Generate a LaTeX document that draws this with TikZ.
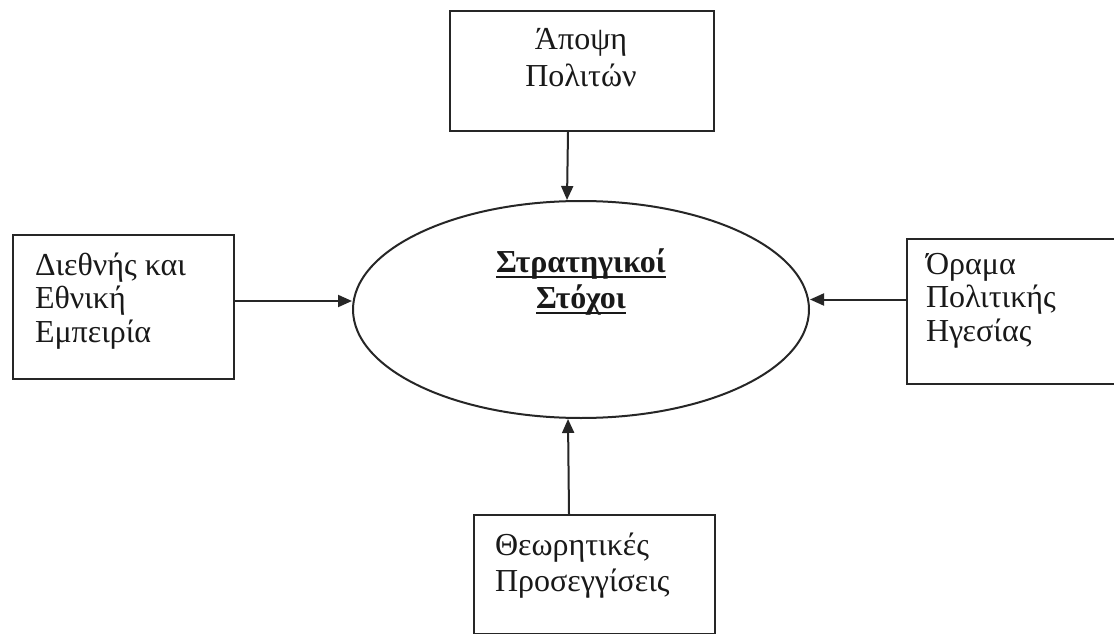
\documentclass[tikz,border=0pt]{standalone}
\usepackage{fontspec}
\setmainfont{Liberation Serif}
\usetikzlibrary{arrows.meta,shapes.geometric}
\newcommand{\myul}[1]{{\setbox0\hbox{#1}\copy0\llap{\vrule width\wd0 height -3.5pt depth 5.5pt}}}
\begin{document}
\begin{tikzpicture}[x=1pt,y=-1pt,
  line width=2pt,
  box/.style={draw=black!85, rectangle, inner sep=0pt, anchor=north west},
  txt/.style={align=left, inner sep=0pt, font=\fontsize{32}{33.5}\selectfont, text=black!90},
  ctxt/.style={align=center, inner sep=0pt, font=\fontsize{32}{36}\selectfont, text=black!90},
  arr/.style={draw=black!85, -{Triangle[length=14pt,width=12pt]}}]
\clip (0,0) rectangle (1114,634);
\fill[white] (0,0) rectangle (1114,634);
% boxes
\node[box, minimum width=264, minimum height=120] (T) at (449,10) {};
\node[box, minimum width=221, minimum height=144] (L) at (12,234) {};
\node[box, minimum width=230, minimum height=145] (R) at (906,238) {};
\node[box, minimum width=241, minimum height=119] (B) at (473,514) {};
% ellipse
\node[draw=black!85, ellipse, inner sep=0pt, minimum width=456, minimum height=217] (E) at (581,309.5) {};
% texts (anchor = baseline of the last line)
\node[ctxt, anchor=base] (Tt) at (581,86) {Άποψη\\Πολιτών};
\node[txt, anchor=base west] (Lt) at (34,342) {Διεθνής και\\Εθνική\\Εμπειρία};
\node[txt, anchor=base west] (Rt) at (925,341) {Όραμα\\Πολιτικής\\Ηγεσίας};
\node[txt, anchor=base west, font=\fontsize{32}{36}\selectfont] (Bt) at (494,591) {Θεωρητικές\\Προσεγγίσεις};
\node[ctxt, anchor=base, font=\fontsize{32}{36}\selectfont\bfseries] (Et) at (581,308) {\myul{Στρατηγικοί}\\\myul{Στόχοι}};
% connectors
\draw[arr] ([xshift=-14pt]T.south) -- ([xshift=-14pt]E.north);
\draw[arr] ([yshift=6pt]L.east) -- ([yshift=6pt]L.east -| E.west);
\draw[arr] ([yshift=12pt]R.west) -- ([yshift=12pt]R.west -| E.east);
\draw[arr] ([xshift=-25.5pt]B.north) -- ([xshift=-13pt]E.south);
\end{tikzpicture}
\end{document}
